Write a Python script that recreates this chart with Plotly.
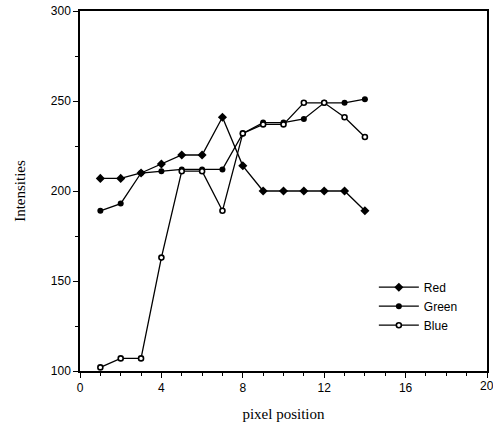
import plotly.graph_objects as go

pixel_position = list(range(1, 15))
red_values = [207, 207, 210, 215, 220, 220, 241, 214, 200, 200, 200, 200, 200, 189]
green_values = [189, 193, 210, 211, 212, 212, 212, 232, 238, 238, 240, 249, 249, 251]
blue_values = [102, 107, 107, 163, 211, 211, 189, 232, 237, 237, 249, 249, 241, 230]

x_ticks = [0, 4, 8, 12, 16, 20]
y_ticks = [100, 150, 200, 250, 300]

fig = go.Figure()
fig.add_trace(go.Scatter(x=pixel_position, y=red_values, name="Red", mode="lines+markers",
                         line=dict(color="black", width=1.3),
                         marker=dict(symbol="diamond", size=7, color="black")))
fig.add_trace(go.Scatter(x=pixel_position, y=green_values, name="Green", mode="lines+markers",
                         line=dict(color="black", width=1.3),
                         marker=dict(symbol="circle", size=6, color="black")))
fig.add_trace(go.Scatter(x=pixel_position, y=blue_values, name="Blue", mode="lines+markers",
                         line=dict(color="black", width=1.3),
                         marker=dict(symbol="circle", size=5, color="white",
                                     line=dict(color="black", width=1.6))))

axis_font = dict(family="Liberation Sans, Arial, sans-serif", size=12, color="black")
title_font = dict(family="Liberation Serif, Times New Roman, serif", size=15, color="black")

# last x tick label, partly cut by the page edge as in the reference
fig.add_annotation(x=x_ticks[-1], y=0, xref="x", yref="paper", text=str(x_ticks[-1]),
                   showarrow=False, xanchor="center", yanchor="top", yshift=-6,
                   font=axis_font)

fig.update_layout(
    width=493, height=427,
    margin=dict(l=80, r=6, t=11, b=56),
    paper_bgcolor="white", plot_bgcolor="white",
    showlegend=True,
    legend=dict(x=0.722, y=0.18, xanchor="left", yanchor="middle",
                font=dict(family="Liberation Sans, Arial, sans-serif", size=12, color="black"),
                bgcolor="rgba(0,0,0,0)", itemwidth=40, tracegroupgap=0),
    xaxis=dict(range=[0, 20], tickvals=x_ticks, ticks="outside", ticklen=5, tickwidth=1,
               tickcolor="black", showline=True, linecolor="black", linewidth=1.5,
               mirror=True, showgrid=False, zeroline=False, tickfont=axis_font,
               automargin=False,
               minor=dict(dtick=1, ticks="outside", ticklen=3, tickcolor="black"),
               title=dict(text="pixel position", font=title_font, standoff=14)),
    yaxis=dict(range=[100, 300], tickvals=y_ticks, ticks="outside", ticklen=5, tickwidth=1,
               tickcolor="black", showline=True, linecolor="black", linewidth=1.5,
               mirror=True, showgrid=False, zeroline=False, tickfont=axis_font,
               automargin=False,
               minor=dict(dtick=25, ticks="outside", ticklen=3, tickcolor="black"),
               title=dict(text="Intensities", font=title_font, standoff=22)),
)

fig.write_html("out.html")
